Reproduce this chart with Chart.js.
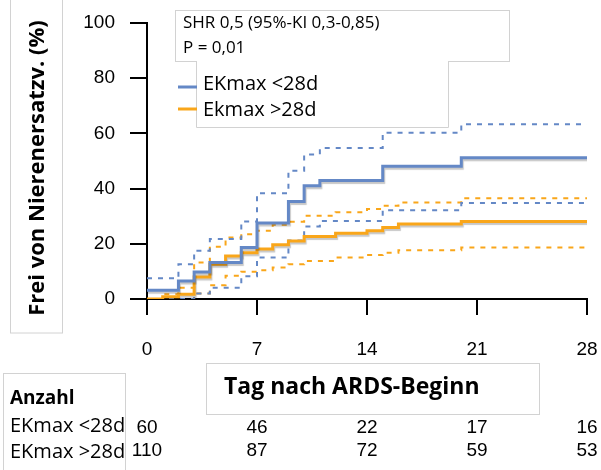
<!DOCTYPE html>
<html>
<head>
<meta charset="utf-8">
<script src="https://cdn.jsdelivr.net/npm/chart.js@4.4.1/dist/chart.umd.min.js"></script>
<style>
  html, body { margin: 0; padding: 0; background: #fff; }
  canvas { display: block; }
</style>
</head>
<body>
<canvas id="km" width="601" height="470"></canvas>
<script>
// Step times (days) and cumulative values (%).
// Each value holds from its day until the next day in the list.
const daysShort  = [0, 2, 3, 4, 6, 7, 9, 10, 11, 15, 20, 28];
const shortEst   = [3.2, 6.5, 9.8, 13.2, 18.7, 27.5, 35.3, 41.0, 42.9, 48.1, 51.2, 51.2];
const shortUpper = [7.5, 12.6, 17.5, 21.7, 28.1, 38.3, 46.5, 52.4, 54.7, 60.2, 63.3, 63.3];
const shortLower = [0, 0, 2.0, 4.1, 8.2, 15.0, 21.2, 26.3, 28.3, 32.2, 34.8, 34.8];

const daysLong  = [0, 1, 2, 3, 4, 5, 6, 7, 8, 9, 10, 12, 14, 15, 16, 20, 28];
const longEst   = [0, 0.8, 1.7, 8.0, 12.6, 15.6, 16.8, 18.1, 19.7, 21.0, 22.6, 23.8, 24.7, 25.9, 27.2, 28.1, 28.1];
const longUpper = [0, 1.7, 4.1, 13.2, 18.9, 22.3, 23.5, 24.7, 26.9, 28.0, 30.2, 31.4, 32.6, 33.8, 35.0, 36.5, 36.5];
const longLower = [0, 0, 0, 2.0, 5.0, 8.4, 9.9, 10.4, 11.4, 12.6, 13.8, 15.0, 15.9, 16.8, 17.7, 18.7, 18.7];

const groupLabels = ["EKmax <28d", "Ekmax >28d"];
const statLines = ["SHR 0,5 (95%-KI 0,3-0,85)", "P = 0,01"];
const yTitle = "Frei von Nierenersatzv. (%)";
const xTitle = "Tag nach ARDS-Beginn";

// number at risk table
const riskHeader = "Anzahl";
const riskLabels = ["EKmax <28d", "EKmax >28d"];
const riskDays = [0, 7, 14, 21, 28];
const riskShort = [60, 46, 22, 17, 16];
const riskLong = [110, 87, 72, 59, 53];

const BLUE = "#6488c6";
const ORANGE = "#f9a61a";
const SANS = "'Open Sans'";
const NUM = "'Liberation Sans', Arial, sans-serif";

const pts = (xs, ys) => xs.map((d, i) => ({ x: d, y: ys[i] }));

function stepSet(label, xs, ys, color, dashed) {
  return {
    label,
    data: pts(xs, ys),
    borderColor: color,
    borderWidth: dashed ? 2 : 3,
    borderDash: dashed ? [5, 6] : [],
    stepped: "before",
    pointRadius: 0,
    fill: false,
  };
}

// soft drop shadow under the solid estimate lines
const lineShadow = {
  id: "lineShadow",
  beforeDatasetDraw(chart, args) {
    const ds = chart.data.datasets[args.index];
    chart.ctx.save();
    if (!ds.borderDash.length) {
      chart.ctx.shadowColor = "rgba(0,0,0,0.22)";
      chart.ctx.shadowOffsetX = 1;
      chart.ctx.shadowOffsetY = 2;
      chart.ctx.shadowBlur = 1;
    }
  },
  afterDatasetDraw(chart) {
    chart.ctx.restore();
  },
};

// boxes, titles, legend and the number-at-risk rows
const annotate = {
  id: "annotate",
  afterDraw(chart) {
    const { ctx } = chart;
    const xs = chart.scales.x;
    ctx.save();
    ctx.lineWidth = 1;
    ctx.strokeStyle = "#d2d2d2";
    ctx.fillStyle = "#000";
    ctx.textBaseline = "middle";

    // y title
    ctx.strokeRect(10.5, -1, 52, 334);
    ctx.save();
    ctx.translate(38, 168);
    ctx.rotate(-Math.PI / 2);
    ctx.textAlign = "center";
    ctx.font = `bold 22px ${SANS}`;
    ctx.fillText(yTitle, 0, 0);
    ctx.restore();

    // stats box
    ctx.fillStyle = "#fff";
    ctx.fillRect(175, 10, 334, 51);
    ctx.strokeRect(175.5, 10.5, 334, 51);
    ctx.fillStyle = "#000";
    ctx.textAlign = "left";
    ctx.font = `17px ${SANS}`;
    ctx.fillText(statLines[0], 183, 23);
    ctx.fillText(statLines[1], 183, 48);

    // legend box (open at the top)
    ctx.fillStyle = "#fff";
    ctx.fillRect(196, 61, 252, 66);
    ctx.beginPath();
    ctx.moveTo(196.5, 61);
    ctx.lineTo(196.5, 127.5);
    ctx.lineTo(448.5, 127.5);
    ctx.lineTo(448.5, 61);
    ctx.stroke();
    [BLUE, ORANGE].forEach((c, i) => {
      const y = i === 0 ? 87 : 109;
      ctx.strokeStyle = c;
      ctx.lineWidth = 3;
      ctx.beginPath();
      ctx.moveTo(178, y);
      ctx.lineTo(197, y);
      ctx.stroke();
      ctx.fillStyle = "#000";
      ctx.font = `20px ${SANS}`;
      ctx.fillText(groupLabels[i], 203, i === 0 ? 84 : 110);
    });

    // x title box
    ctx.strokeStyle = "#d2d2d2";
    ctx.lineWidth = 1;
    ctx.fillStyle = "#fff";
    ctx.fillRect(206, 363, 333, 51);
    ctx.strokeRect(206.5, 363.5, 333, 51);
    ctx.fillStyle = "#000";
    ctx.font = `bold 23px ${SANS}`;
    ctx.fillText(xTitle, 224, 387);

    // number at risk
    ctx.strokeRect(3.5, 373.5, 122, 110);
    ctx.font = `bold 19px ${SANS}`;
    ctx.fillText(riskHeader, 10, 399);
    ctx.font = `20px ${SANS}`;
    ctx.fillText(riskLabels[0], 10, 426);
    ctx.fillText(riskLabels[1], 10, 452);
    ctx.textAlign = "center";
    ctx.font = `19px ${NUM}`;
    riskDays.forEach((d, i) => {
      const px = xs.getPixelForValue(d);
      ctx.fillText(String(riskShort[i]), px, 428);
      ctx.fillText(String(riskLong[i]), px, 451);
    });
    ctx.restore();
  },
};

const axisFont = { family: NUM, size: 19 };

new Chart(document.getElementById("km"), {
  type: "line",
  data: {
    datasets: [
      stepSet(groupLabels[0], daysShort, shortEst, BLUE, false),
      stepSet(groupLabels[1], daysLong, longEst, ORANGE, false),
      stepSet("upper <28d", daysShort, shortUpper, BLUE, true),
      stepSet("lower <28d", daysShort, shortLower, BLUE, true),
      stepSet("upper >28d", daysLong, longUpper, ORANGE, true),
      stepSet("lower >28d", daysLong, longLower, ORANGE, true),
    ],
  },
  options: {
    responsive: false,
    animation: false,
    layout: { padding: { left: 0, top: 23, right: 14, bottom: 0 } },
    plugins: { legend: { display: false }, tooltip: { enabled: false } },
    scales: {
      x: {
        type: "linear",
        min: 0,
        max: 28,
        afterFit(s) {
          s.height = 171;
          s.paddingLeft = 0;
          s.paddingRight = 0;
        },
        ticks: { stepSize: 7, font: axisFont, color: "#000", padding: 23, maxRotation: 0 },
        grid: { drawOnChartArea: false, drawTicks: true, tickLength: 16, color: "#000", lineWidth: 2 },
        border: { display: true, color: "#000", width: 2 },
      },
      y: {
        min: 0,
        max: 100,
        afterFit(s) {
          s.width = 147;
          s.paddingTop = 0;
          s.paddingBottom = 0;
        },
        ticks: { stepSize: 20, font: axisFont, color: "#000", padding: 15 },
        grid: { drawOnChartArea: false, drawTicks: true, tickLength: 17, color: "#000", lineWidth: 2 },
        border: { display: true, color: "#000", width: 2 },
      },
    },
  },
  plugins: [lineShadow, annotate],
});
</script>
</body>
</html>
